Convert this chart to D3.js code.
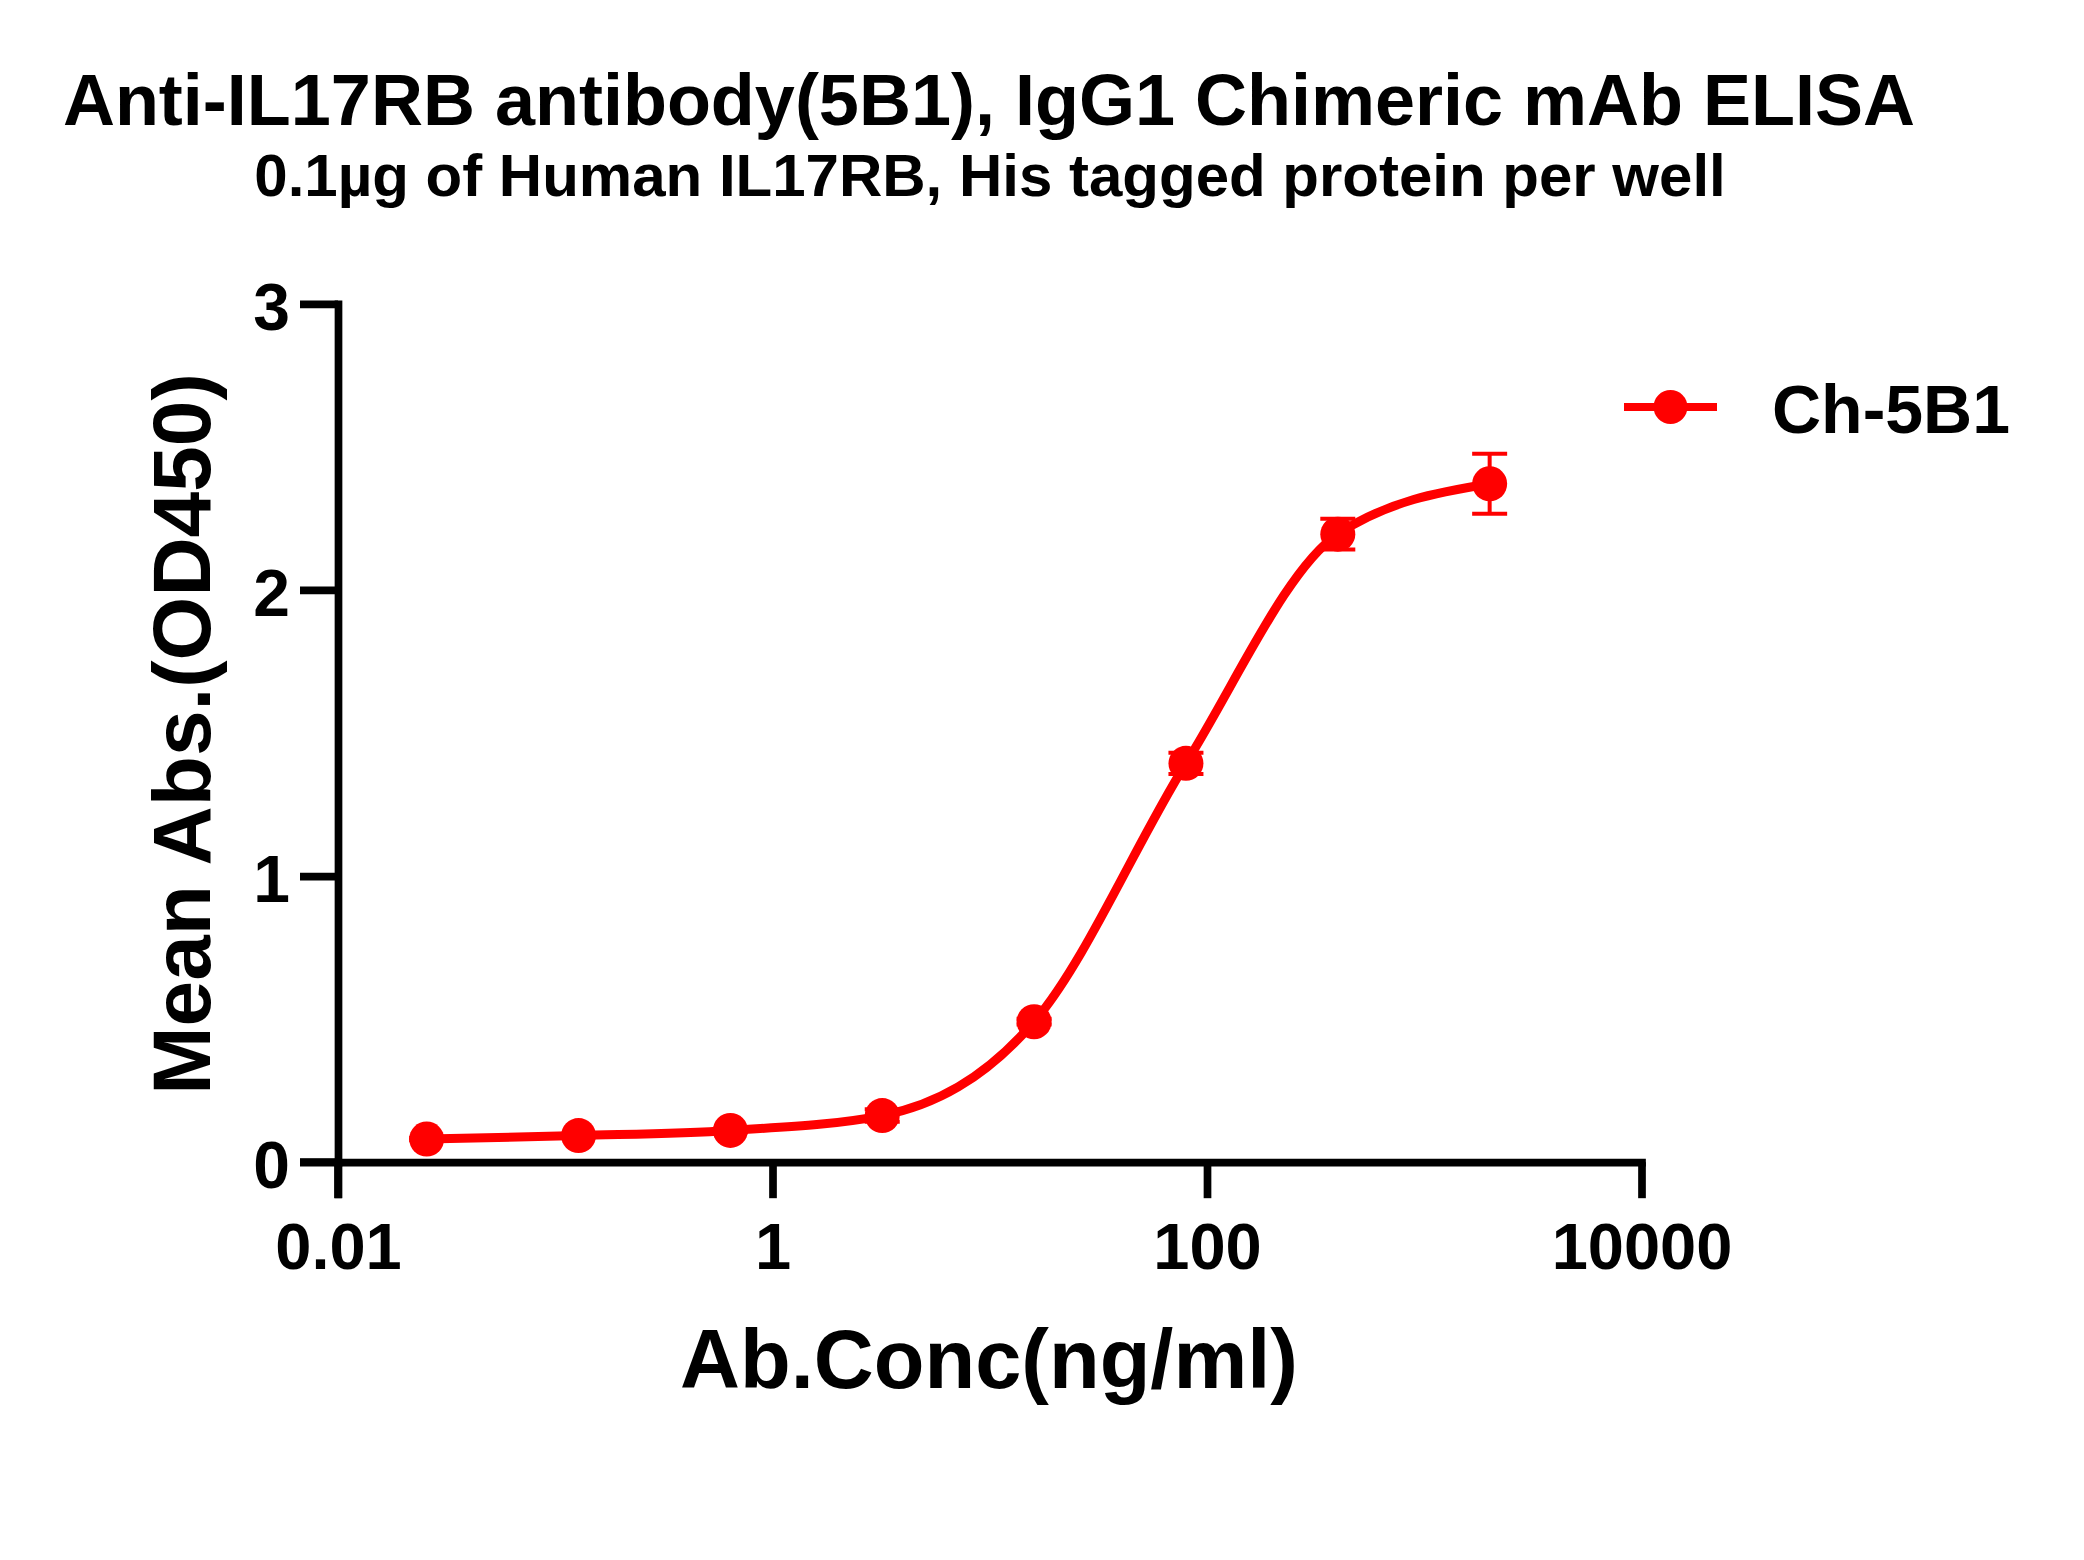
<!DOCTYPE html>
<html>
<head>
<meta charset="utf-8">
<script src="https://cdn.jsdelivr.net/npm/d3@7"></script>
<style>
  html, body { margin: 0; padding: 0; background: #fff; }
  svg { display: block; }
  text { font-family: "Liberation Sans", Arial, Helvetica, sans-serif; font-weight: bold; fill: #000; }
</style>
</head>
<body>
<svg id="chart" width="2084" height="1560"></svg>
<script>
// ---- data ----
const title = "Anti-IL17RB antibody(5B1), IgG1 Chimeric mAb ELISA";
const subtitle = "0.1\u00b5g of Human IL17RB, His tagged protein per well";
const xLabel = "Ab.Conc(ng/ml)";
const yLabel = "Mean Abs.(OD450)";
const seriesName = "Ch-5B1";
const concentrations = [0.0256, 0.128, 0.64, 3.2, 16, 80, 400, 2000];
const meanAbs = [0.081, 0.093, 0.111, 0.163, 0.491, 1.394, 2.195, 2.371];
const sdAbs = [0.004, 0.005, 0.006, 0.022, 0.01, 0.037, 0.054, 0.105];
const xTicks = [0.01, 1, 100, 10000];
const xTickLabels = ["0.01", "1", "100", "10000"];
const yTicks = [0, 1, 2, 3];

// ---- layout ----
const svg = d3.select("#chart");
svg.append("rect").attr("width", 2084).attr("height", 1560).attr("fill", "#fff");

const x = d3.scaleLog().domain([0.01, 10000]).range([338, 1641.5]);
const y = d3.scaleLinear().domain([0, 3]).range([1162.2, 303.8]);
const red = "#FF0000";
const axisW = 7.7;

// titles
svg.append("text").attr("x", 989).attr("y", 125).attr("text-anchor", "middle")
  .attr("font-size", 72).text(title);
svg.append("text").attr("x", 990).attr("y", 196).attr("text-anchor", "middle")
  .attr("font-size", 60).text(subtitle);

// y axis
const yAxis = svg.append("g").attr("transform", `translate(${x(0.01)},0)`)
  .call(d3.axisLeft(y).tickValues(yTicks).tickFormat(d3.format("d")).tickSize(38).tickSizeOuter(0).tickPadding(10));
yAxis.select(".domain").attr("stroke", "#000").attr("stroke-width", axisW).attr("stroke-linecap", "square");
yAxis.selectAll(".tick line").attr("stroke", "#000").attr("stroke-width", axisW);
yAxis.selectAll(".tick text").attr("font-size", 66).attr("dy", "0.39em")
  .style("font-family", "'Liberation Sans', Arial, sans-serif").style("font-weight", "bold").attr("fill", "#000");

// x axis
const xAxis = svg.append("g").attr("transform", `translate(0,${y(0)})`)
  .call(d3.axisBottom(x).tickValues(xTicks).tickFormat((d, i) => xTickLabels[i]).tickSize(36).tickSizeOuter(0).tickPadding(25));
xAxis.select(".domain").attr("stroke", "#000").attr("stroke-width", axisW).attr("stroke-linecap", "square");
xAxis.selectAll(".tick line").attr("stroke", "#000").attr("stroke-width", axisW);
xAxis.selectAll(".tick text").attr("font-size", 65)
  .style("font-family", "'Liberation Sans', Arial, sans-serif").style("font-weight", "bold").attr("fill", "#000");
// extend x axis line to the left like the reference
svg.append("line").attr("x1", 300).attr("x2", x(0.01)).attr("y1", y(0)).attr("y2", y(0))
  .attr("stroke", "#000").attr("stroke-width", axisW);
// extend y axis line below
svg.append("line").attr("x1", x(0.01)).attr("x2", x(0.01)).attr("y1", y(0)).attr("y2", y(0) + 36)
  .attr("stroke", "#000").attr("stroke-width", axisW);

// axis titles
svg.append("text").attr("x", 989).attr("y", 1388).attr("text-anchor", "middle")
  .attr("font-size", 83).text(xLabel);
svg.append("text").attr("transform", "translate(210,734) rotate(-90)").attr("text-anchor", "middle")
  .attr("font-size", 82).text(yLabel);

// data
const data = concentrations.map((c, i) => ({ c, m: meanAbs[i], sd: sdAbs[i] }));

const line = d3.line().x(d => x(d.c)).y(d => y(d.m)).curve(d3.curveMonotoneX);
svg.append("path").datum(data).attr("d", line).attr("fill", "none")
  .attr("stroke", red).attr("stroke-width", 9).attr("stroke-linejoin", "round");

const eb = svg.append("g").attr("stroke", red).attr("stroke-width", 4);
data.forEach(d => {
  const cx = x(d.c);
  eb.append("line").attr("x1", cx).attr("x2", cx).attr("y1", y(d.m + d.sd)).attr("y2", y(d.m - d.sd));
  eb.append("line").attr("x1", cx - 17.5).attr("x2", cx + 17.5).attr("y1", y(d.m + d.sd)).attr("y2", y(d.m + d.sd));
  eb.append("line").attr("x1", cx - 17.5).attr("x2", cx + 17.5).attr("y1", y(d.m - d.sd)).attr("y2", y(d.m - d.sd));
});

svg.append("g").selectAll("circle").data(data).join("circle")
  .attr("cx", d => x(d.c)).attr("cy", d => y(d.m)).attr("r", 17.5).attr("fill", red);

// legend
const lg = svg.append("g");
lg.append("line").attr("x1", 1624).attr("x2", 1717).attr("y1", 407).attr("y2", 407)
  .attr("stroke", red).attr("stroke-width", 8);
lg.append("circle").attr("cx", 1670.5).attr("cy", 407).attr("r", 17).attr("fill", red);
lg.append("text").attr("x", 1772).attr("y", 433).attr("font-size", 68).text(seriesName);
</script>
</body>
</html>
